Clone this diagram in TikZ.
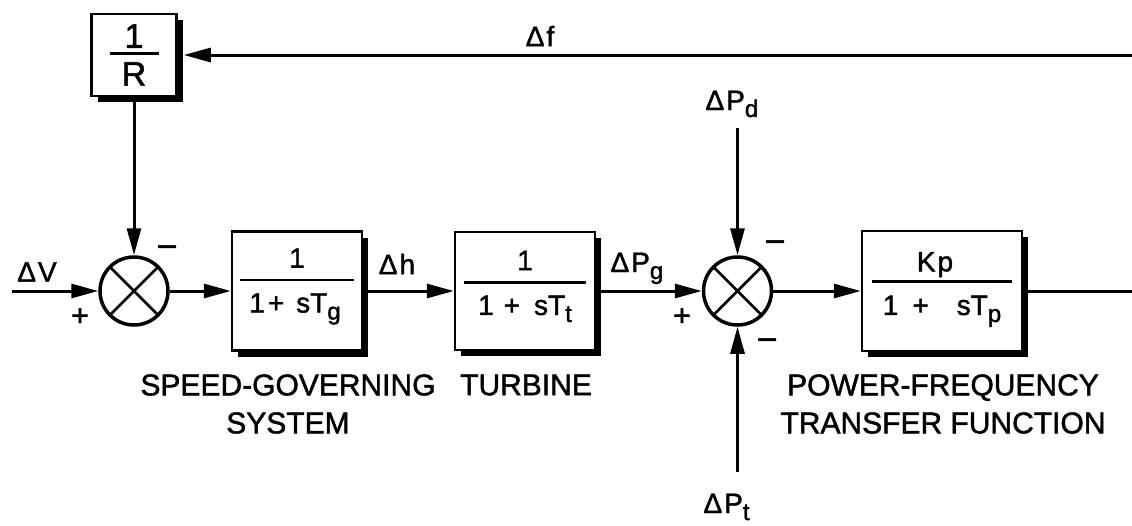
\documentclass[tikz,border=0pt]{standalone}
\usepackage{fontspec}
\setmainfont{Liberation Sans}[FakeBold=1.5]
\usetikzlibrary{arrows.meta,shadows}
\newcommand\lsub[1]{\raisebox{-7pt}{\fontsize{24}{24}\selectfont #1}}
\newcommand\dl{Δ\kern2pt}
\newcommand\frc[6]{\vbox{\offinterlineskip\halign{\hfil##\hfil\cr #4\cr\noalign{\vskip#2}\rule{#1}{2.5pt}\cr\noalign{\vskip#3}#5\cr\noalign{\vskip#6}}}}
\begin{document}
\begin{tikzpicture}[x=1pt,y=-1pt,line width=3pt,
  >={Triangle[length=27pt,width=14pt]},
  blk/.style={draw,line width=2.5pt,fill=white,inner sep=0pt,
    drop shadow={shadow xshift=6pt,shadow yshift=-6pt,opacity=1,fill=black}},
  sj/.style={circle,draw,line width=3.5pt,minimum size=68pt,inner sep=0pt,
    path picture={\draw[line width=2.5pt]
      (path picture bounding box.north west)--(path picture bounding box.south east)
      (path picture bounding box.north east)--(path picture bounding box.south west);}},
  lab/.style={inner sep=0pt,font=\fontsize{28}{30}\selectfont},
  sgn/.style={inner sep=0pt,font=\fontsize{30}{30}\selectfont},
  captxt/.style={inner sep=0pt,align=center,font=\fontsize{30}{38}\selectfont},
  ftx/.style={font=\fontsize{28}{30}\selectfont}]
\useasboundingbox (0,0) rectangle (1132,525);
% blocks
\node[blk,minimum width=85pt,minimum height=82pt,font=\fontsize{34}{34}\selectfont] (r) at (134,55)
  {\frc{49pt}{4.5pt}{7.5pt}{1}{R}{0pt}};
\node[sj] (s1) at (134,291) {};
\node[blk,ftx,minimum width=130pt,minimum height=119pt] (g) at (297,291)
  {\frc{114pt}{11pt}{12pt}{1}{1\hspace{3pt}+\hspace{12pt}sT\lsub{g}\hspace{4pt}}{9pt}};
\node[blk,ftx,minimum width=140pt,minimum height=118pt] (t) at (525,291)
  {\frc{122pt}{11pt}{12pt}{1}{1\hspace{10pt}+\hspace{14pt}sT\lsub{t}}{9pt}};
\node[sj] (s2) at (737.5,291) {};
\node[blk,ftx,minimum width=160pt,minimum height=120pt] (p) at (942,291)
  {\frc{140pt}{3pt}{13pt}{K\kern2pt p\hspace{14pt}}{1\hspace{14pt}+\hspace{28pt}sT\lsub{p}}{3pt}};
% free ends
\coordinate (fr) at (1132,55);
\coordinate (vin) at (12,291);
\coordinate (out) at (1132,291);
\coordinate (pd) at (737.5,128);
\coordinate (pt) at (737.5,472);
% connectors
\draw[->] (fr) -- ([xshift=6pt]r.east);
\draw[->] (r.south) -- (s1.north);
\draw[->] (vin) -- (s1.west);
\draw[->] (s1.east) -- (g.west);
\draw[->] (g.east) -- (t.west);
\draw[->] (t.east) -- (s2.west);
\draw[->] (s2.east) -- (p.west);
\draw (p.east) -- (out);
\draw[->] (pd) -- (s2.north);
\draw[->] (pt) -- (s2.south);
% signal labels
\node[lab] (df) at (540,36) {\dl f};
\node[lab] (dv) at (37,272) {\dl V};
\node[lab] (dh) at (397,264) {\dl h};
\node[lab,anchor=base west] (dpg) at (609,272) {\dl P\lsub{g}};
\node[lab,anchor=base west] (dpd) at (704,110) {\dl P\lsub{d}};
\node[lab,anchor=base west] (dpt) at (702,513) {\dl P\lsub{t}};
% signs
\node[sgn] (p1) at (80,317) {+};
\node[sgn,font=\fontsize{36}{36}\selectfont] (m1) at (167,252) {−};
\node[sgn] (p2) at (682,317) {+};
\node[sgn,font=\fontsize{36}{36}\selectfont] (m2) at (775,247) {−};
\node[sgn,font=\fontsize{36}{36}\selectfont] (m3) at (767,345) {−};
% captions
\node[captxt] (c1) at (288,404) {SPEED-GOVERNING\\SYSTEM};
\node[captxt] (c2) at (526,385) {TURBINE};
\node[captxt] (c3) at (943,404) {POWER-FREQUENCY\\TRANSFER FUNCTION};
\end{tikzpicture}
\end{document}
